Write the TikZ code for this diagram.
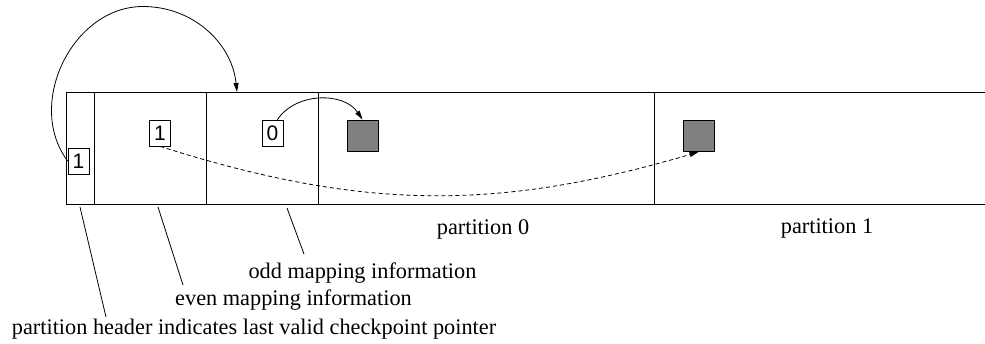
\documentclass[tikz,border=0pt]{standalone}
\usepackage{fontspec}
\setmainfont{Liberation Serif}
\newfontfamily\digitfont{Liberation Sans}
\usetikzlibrary{arrows.meta}

\tikzset{
  frame/.style={line width=1pt, black},
  flag/.style={draw, line width=0.7pt, inner sep=0pt, minimum width=21pt,
    minimum height=26pt, font=\digitfont\fontsize{21}{21}\selectfont},
  block/.style={draw, line width=1pt, fill={rgb,255:red,128;green,128;blue,128},
    minimum size=31pt, inner sep=0pt},
  arr/.style={line width=0.8pt, -{Triangle[length=9pt,width=5pt]}},
  label/.style={font=\fontsize{22.3}{26}\selectfont, anchor=base, inner sep=0pt},
  leader/.style={line width=0.8pt},
}

\begin{document}
\begin{tikzpicture}[x=1pt, y=1pt]
\useasboundingbox (0,0) rectangle (985,-343);

% storage strip, open on the right
\draw[frame] (985,-92) -- (66,-92) -- (66,-204) -- (985,-204);
\foreach \xx in {94,206,318,654} \draw[frame] (\xx,-92) -- (\xx,-204);

% flags and data blocks
\node[flag] (h1) at (78.5,-161) {1};
\node[flag] (e1) at (160,-133) {1};
\node[flag] (z0) at (272.5,-133) {0};
\node[block] (sq1) at (362.5,-135.5) {};
\node[block] (sq2) at (698.5,-136) {};

% header pointer into the odd mapping area
\coordinate (apex) at (143,-6.5);
\coordinate (oddtop) at (237,-92);
\draw[arr] (h1.west) to[out=127, in=180, looseness=1.05] (apex)
  to[out=0, in=96, looseness=1.0] (oddtop);

% odd mapping -> block in partition 0
\draw[arr] (z0.70) to[bend left=56] (sq1.north);

% even mapping -> block in partition 1
\draw[arr, dash pattern=on 4pt off 3pt] (e1.south) to[bend right=17] (sq2.south);

% partition captions
\node[label] (p0) at (483,-234) {partition 0};
\node[label] (p1) at (827,-233) {partition 1};

% area descriptions with leader lines
\node[label] (odd) at (362.5,-278) {odd mapping information};
\node[label] (even) at (293.5,-305) {even mapping information};
\node[label] (hdr) at (254,-334) {partition header indicates last valid checkpoint pointer};

\coordinate (oddA) at (287,-208);
\coordinate (oddB) at (304,-254);
\coordinate (evenA) at (158,-207);
\coordinate (evenB) at (183,-285);
\coordinate (hdrA) at (80,-207);
\coordinate (hdrB) at (106,-317);
\draw[leader] (oddA) -- (oddB);
\draw[leader] (evenA) -- (evenB);
\draw[leader] (hdrA) -- (hdrB);
\end{tikzpicture}
\end{document}
